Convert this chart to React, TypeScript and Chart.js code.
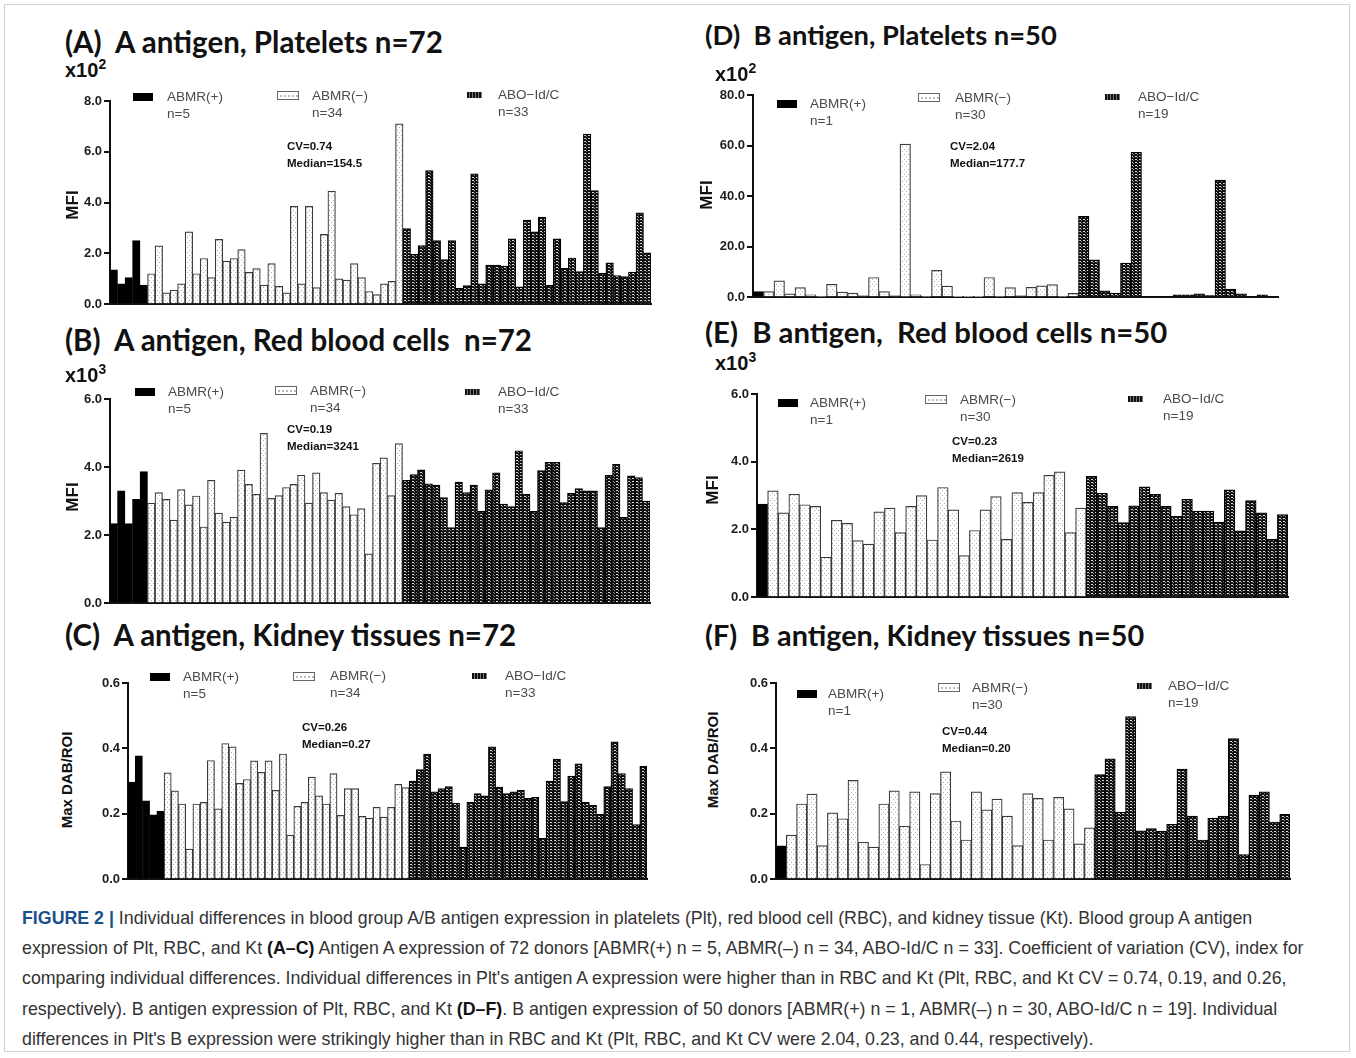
import React, { useEffect, useRef } from "react";
import { Chart, registerables } from "chart.js";
Chart.register(...registerables);

// ---------------- DATA ----------------
// (A) A antigen, Platelets (x10^2 MFI)
const aPltPos = [1.35, 0.8, 1.05, 2.5, 0.75];
const aPltNeg = [1.2, 2.3, 0.45, 0.55, 0.8, 2.85, 1.2, 1.8, 1.05, 2.55, 1.7, 1.8, 2.15, 1.25, 1.4, 0.75, 1.6, 0.7, 0.45, 3.85, 0.8, 3.85, 0.65, 2.75, 4.45, 1.0, 0.95, 1.6, 1.05, 0.5, 0.38, 0.8, 0.9, 7.1];
const aPltAbo = [2.98, 1.96, 2.31, 5.26, 2.5, 1.76, 2.5, 0.62, 0.73, 5.13, 0.8, 1.54, 1.54, 1.5, 2.57, 0.68, 3.31, 2.85, 3.43, 0.74, 2.57, 1.41, 1.82, 1.28, 6.7, 4.47, 1.22, 1.63, 1.13, 1.09, 1.26, 3.6, 2.02];
// (B) A antigen, Red blood cells (x10^3 MFI)
const aRbcPos = [2.34, 3.3, 2.34, 3.05, 3.87];
const aRbcNeg = [2.94, 3.25, 3.05, 2.44, 3.34, 2.89, 3.15, 2.24, 3.61, 2.65, 2.38, 2.53, 3.91, 3.49, 3.2, 4.99, 3.08, 3.16, 3.4, 3.49, 3.76, 2.94, 3.83, 3.25, 3.03, 3.23, 2.84, 2.6, 2.78, 1.45, 4.11, 4.27, 3.16, 4.69];
const aRbcAbo = [3.61, 3.78, 3.92, 3.51, 3.47, 3.1, 2.22, 3.56, 3.25, 3.47, 2.7, 3.33, 3.83, 2.91, 2.84, 4.48, 3.2, 2.7, 3.9, 4.14, 4.14, 2.96, 3.23, 3.37, 3.3, 3.3, 2.22, 3.76, 4.08, 2.52, 3.74, 3.69, 3.0];
// (C) A antigen, Kidney tissues (Max DAB/ROI)
const aKtPos = [0.297, 0.377, 0.24, 0.197, 0.208];
const aKtNeg = [0.325, 0.27, 0.23, 0.092, 0.23, 0.235, 0.363, 0.215, 0.415, 0.405, 0.293, 0.305, 0.362, 0.327, 0.362, 0.272, 0.383, 0.135, 0.223, 0.235, 0.312, 0.255, 0.23, 0.323, 0.195, 0.277, 0.277, 0.192, 0.187, 0.22, 0.19, 0.22, 0.29, 0.28];
const aKtAbo = [0.3, 0.335, 0.383, 0.267, 0.277, 0.283, 0.233, 0.098, 0.235, 0.262, 0.255, 0.405, 0.282, 0.262, 0.267, 0.272, 0.247, 0.25, 0.125, 0.3, 0.367, 0.237, 0.315, 0.353, 0.235, 0.227, 0.198, 0.283, 0.42, 0.323, 0.277, 0.167, 0.345];
// (D) B antigen, Platelets (x10^2 MFI)
const bPltPos = [2.2];
const bPltNeg = [2.2, 6.5, 1.3, 3.8, 0.9, 0.3, 5.1, 2.0, 1.6, 0.6, 7.8, 2.2, 0.6, 60.6, 0.9, 0.3, 10.6, 4.4, 0.2, 0.2, 0.2, 7.8, 0.3, 3.8, 0.6, 3.9, 4.5, 5.0, 0.3, 1.5];
const bPltAbo = [32.0, 14.8, 2.5, 1.6, 13.5, 57.3, 0.3, 0.3, 0.3, 0.9, 0.9, 1.3, 0.6, 46.3, 3.2, 1.3, 0.3, 0.9, 0.3];
// (E) B antigen, Red blood cells (x10^3 MFI)
const bRbcPos = [2.75];
const bRbcNeg = [3.14, 2.49, 3.04, 2.73, 2.68, 1.18, 2.27, 2.18, 1.67, 1.57, 2.52, 2.63, 1.91, 2.68, 3.0, 1.69, 3.24, 2.58, 1.23, 1.97, 2.58, 2.97, 1.71, 3.09, 2.8, 3.09, 3.6, 3.7, 1.91, 2.63];
const bRbcAbo = [3.57, 3.07, 2.68, 2.2, 2.7, 3.26, 3.04, 2.68, 2.39, 2.89, 2.54, 2.54, 2.22, 3.17, 1.96, 2.85, 2.49, 1.71, 2.44];
// (F) B antigen, Kidney tissues (Max DAB/ROI)
const bKtPos = [0.102];
const bKtNeg = [0.135, 0.23, 0.26, 0.103, 0.203, 0.185, 0.302, 0.113, 0.098, 0.23, 0.27, 0.162, 0.267, 0.045, 0.262, 0.328, 0.178, 0.12, 0.267, 0.212, 0.245, 0.193, 0.103, 0.262, 0.247, 0.12, 0.25, 0.215, 0.108, 0.157];
const bKtAbo = [0.32, 0.368, 0.205, 0.497, 0.148, 0.155, 0.147, 0.168, 0.337, 0.193, 0.12, 0.187, 0.193, 0.43, 0.075, 0.257, 0.267, 0.175, 0.198];

// tick values
const ticksPltA = [0, 2, 4, 6, 8];
const ticksRbc = [0, 2, 4, 6];
const ticksKt = [0, 0.2, 0.4, 0.6];
const ticksPltB = [0, 20, 40, 60, 80];

// group labels
const groupNames = ["ABMR(+)", "ABMR(\u2212)", "ABO\u2212Id/C"];

// ---------------- PANELS ----------------
type Leg = { sx: number; sy: number; tx: number; ty: number };
type Panel = {
  title: string; titleSize: number; mult?: string; exp?: string; yLabel: string;
  pos: number[]; neg: number[]; abo: number[]; ticks: number[];
  nText: string[]; cv: string; med: string;
  axisX: number; topY: number; zeroY: number; rightX: number;
  titleX: number; titleY: number; multX?: number; multY?: number;
  ylX: number; ylY: number; cvX: number; cvY: number; legs: Leg[];
};

const panels: Panel[] = [
  {
    title: "(A)  A antigen, Platelets n=72", titleSize: 29.5, mult: "x10", exp: "2", yLabel: "MFI",
    pos: aPltPos, neg: aPltNeg, abo: aPltAbo, ticks: ticksPltA,
    nText: ["n=5", "n=34", "n=33"], cv: "CV=0.74", med: "Median=154.5",
    axisX: 110, topY: 101, zeroY: 308, rightX: 651,
    titleX: 65, titleY: 42, multX: 65, multY: 68, ylX: 72, ylY: 205, cvX: 287, cvY: 147,
    legs: [{ sx: 133, sy: 97, tx: 167, ty: 97 }, { sx: 277, sy: 96, tx: 312, ty: 96 }, { sx: 467, sy: 95, tx: 498, ty: 95 }],
  },
  {
    title: "(B)  A antigen, Red blood cells  n=72", titleSize: 29.5, mult: "x10", exp: "3", yLabel: "MFI",
    pos: aRbcPos, neg: aRbcNeg, abo: aRbcAbo, ticks: ticksRbc,
    nText: ["n=5", "n=34", "n=33"], cv: "CV=0.19", med: "Median=3241",
    axisX: 110, topY: 399, zeroY: 607, rightX: 650,
    titleX: 65, titleY: 340, multX: 65, multY: 373, ylX: 72, ylY: 497, cvX: 287, cvY: 430,
    legs: [{ sx: 135, sy: 392, tx: 168, ty: 392 }, { sx: 275, sy: 391, tx: 310, ty: 391 }, { sx: 465, sy: 392, tx: 498, ty: 392 }],
  },
  {
    title: "(C)  A antigen, Kidney tissues n=72", titleSize: 29.5, yLabel: "Max DAB/ROI",
    pos: aKtPos, neg: aKtNeg, abo: aKtAbo, ticks: ticksKt,
    nText: ["n=5", "n=34", "n=33"], cv: "CV=0.26", med: "Median=0.27",
    axisX: 128, topY: 683, zeroY: 883, rightX: 647,
    titleX: 65, titleY: 635, ylX: 66, ylY: 780, cvX: 302, cvY: 728,
    legs: [{ sx: 150, sy: 677, tx: 183, ty: 677 }, { sx: 293, sy: 677, tx: 330, ty: 676 }, { sx: 472, sy: 676, tx: 505, ty: 676 }],
  },
  {
    title: "(D)  B antigen, Platelets n=50", titleSize: 27.3, mult: "x10", exp: "2", yLabel: "MFI",
    pos: bPltPos, neg: bPltNeg, abo: bPltAbo, ticks: ticksPltB,
    nText: ["n=1", "n=30", "n=19"], cv: "CV=2.04", med: "Median=177.7",
    axisX: 753, topY: 95, zeroY: 301, rightX: 1278,
    titleX: 705, titleY: 35, multX: 715, multY: 72, ylX: 706, ylY: 195, cvX: 950, cvY: 147,
    legs: [{ sx: 777, sy: 104, tx: 810, ty: 104 }, { sx: 918, sy: 98, tx: 955, ty: 98 }, { sx: 1105, sy: 97, tx: 1138, ty: 97 }],
  },
  {
    title: "(E)  B antigen,  Red blood cells n=50", titleSize: 29.3, mult: "x10", exp: "3", yLabel: "MFI",
    pos: bRbcPos, neg: bRbcNeg, abo: bRbcAbo, ticks: ticksRbc,
    nText: ["n=1", "n=30", "n=19"], cv: "CV=0.23", med: "Median=2619",
    axisX: 757, topY: 394, zeroY: 601, rightX: 1288,
    titleX: 705, titleY: 332, multX: 715, multY: 361, ylX: 712, ylY: 490, cvX: 952, cvY: 442,
    legs: [{ sx: 778, sy: 403, tx: 810, ty: 403 }, { sx: 925, sy: 400, tx: 960, ty: 400 }, { sx: 1128, sy: 399, tx: 1163, ty: 399 }],
  },
  {
    title: "(F)  B antigen, Kidney tissues n=50", titleSize: 28.8, yLabel: "Max DAB/ROI",
    pos: bKtPos, neg: bKtNeg, abo: bKtAbo, ticks: ticksKt,
    nText: ["n=1", "n=30", "n=19"], cv: "CV=0.44", med: "Median=0.20",
    axisX: 776, topY: 683, zeroY: 883, rightX: 1290,
    titleX: 705, titleY: 635, ylX: 712, ylY: 760, cvX: 942, cvY: 732,
    legs: [{ sx: 797, sy: 694, tx: 828, ty: 694 }, { sx: 938, sy: 688, tx: 972, ty: 688 }, { sx: 1137, sy: 686, tx: 1168, ty: 686 }],
  },
];

const Y_AXIS_W = 50;
const PAD_TOP = 12;
const PAD_BOTTOM = 6;
const PAD_RIGHT = 6;

function makePatterns(ctx: CanvasRenderingContext2D) {
  const dot = document.createElement("canvas");
  dot.width = 4; dot.height = 5;
  const d = dot.getContext("2d")!;
  d.fillStyle = "#ffffff"; d.fillRect(0, 0, 4, 5);
  d.fillStyle = "#b0b0b0"; d.fillRect(1, 1, 1, 1); d.fillRect(3, 3, 1, 1);
  const hatch = document.createElement("canvas");
  hatch.width = 4; hatch.height = 3;
  const h = hatch.getContext("2d")!;
  h.fillStyle = "#111111"; h.fillRect(0, 0, 4, 3);
  h.fillStyle = "#d8d8d8"; h.fillRect(0, 1, 2, 1);
  h.fillStyle = "#888888"; h.fillRect(2, 2, 1, 1);
  return {
    dot: ctx.createPattern(dot, "repeat")!,
    hatch: ctx.createPattern(hatch, "repeat")!,
  };
}

function PanelChart({ p }: { p: Panel }) {
  const ref = useRef<HTMLCanvasElement>(null);
  const left = p.axisX - Y_AXIS_W;
  const top = p.topY - PAD_TOP;
  const width = p.rightX - left + PAD_RIGHT;
  const height = p.zeroY - top + PAD_BOTTOM;
  useEffect(() => {
    const canvas = ref.current!;
    const ctx = canvas.getContext("2d")!;
    const pats = makePatterns(ctx);
    const data = [...p.pos, ...p.neg, ...p.abo];
    const n1 = p.pos.length, n2 = p.pos.length + p.neg.length;
    const labels = data.map((_, i) => String(i + 1));
    const bg = data.map((_, i) => (i < n1 ? "#000000" : i < n2 ? pats.dot : pats.hatch));
    const bc = data.map((_, i) => (i < n1 ? "#000000" : i < n2 ? "#3a3a3a" : "#000000"));
    const max = p.ticks[p.ticks.length - 1];
    const chart = new Chart(canvas, {
      type: "bar",
      data: {
        labels,
        datasets: [{
          data, backgroundColor: bg as any, borderColor: bc, borderWidth: 1.2,
          categoryPercentage: 1, barPercentage: 1, borderSkipped: "start",
        }],
      },
      options: {
        animation: false, responsive: false, maintainAspectRatio: false,
        layout: { padding: { top: PAD_TOP, bottom: PAD_BOTTOM, left: 0, right: PAD_RIGHT } },
        plugins: { legend: { display: false }, tooltip: { enabled: false }, title: { display: false } },
        scales: {
          x: {
            grid: { display: false, drawTicks: false },
            border: { display: true, color: "#111", width: 2 },
            ticks: { display: false },
            afterFit: (a: any) => { a.height = 0; },
          },
          y: {
            min: 0, max,
            afterBuildTicks: (a: any) => { a.ticks = p.ticks.map((v) => ({ value: v })); },
            ticks: {
              callback: (v: any) => Number(v).toFixed(1),
              font: { family: "'Liberation Sans', Arial, sans-serif", weight: "bold", size: 13 },
              color: "#1e1e1e", padding: 2,
            },
            grid: { drawOnChartArea: false, drawTicks: true, tickLength: 6, color: "#111", lineWidth: 2 },
            border: { display: true, color: "#111", width: 2 },
            afterFit: (a: any) => { a.width = Y_AXIS_W; },
          },
        },
      },
    });
    return () => chart.destroy();
  }, []);
  return (
    <canvas ref={ref} width={width} height={height}
      style={{ position: "absolute", left, top, width, height }} />
  );
}

const legendFont = "'Liberation Sans', Arial, sans-serif";

function Swatch({ kind, x, y }: { kind: number; x: number; y: number }) {
  if (kind === 0)
    return <div style={{ position: "absolute", left: x, top: y - 4, width: 20, height: 8, background: "#000" }} />;
  if (kind === 1)
    return <div style={{ position: "absolute", left: x, top: y - 5, width: 22, height: 9, border: "1.5px solid #666", boxSizing: "border-box", background: "repeating-linear-gradient(90deg, #fff 0 2px, #bbb 2px 4px)", backgroundSize: "100% 2px", backgroundRepeat: "no-repeat", backgroundPosition: "center" }} />;
  return <div style={{ position: "absolute", left: x, top: y - 3, width: 15, height: 6, background: "repeating-linear-gradient(90deg, #111 0 2px, #777 2px 3px)" }} />;
}

function PanelText({ p }: { p: Panel }) {
  const T = (x: number, y: number, s: React.CSSProperties, c: React.ReactNode, key: string) => (
    <div key={key} style={{ position: "absolute", left: x, top: y, transform: "translateY(-50%)", whiteSpace: "pre", lineHeight: 1, ...s }}>{c}</div>
  );
  const items: React.ReactNode[] = [];
  items.push(T(p.titleX, p.titleY, { fontFamily: "Lato, 'Open Sans', sans-serif", fontWeight: 700, fontSize: p.titleSize, color: "#111" }, p.title, "t"));
  if (p.mult) {
    items.push(T(p.multX!, p.multY!, { fontFamily: legendFont, fontWeight: 700, fontSize: 20, color: "#111" },
      <span>{p.mult}<sup style={{ fontSize: 14, verticalAlign: "8px" }}>{p.exp}</sup></span>, "m"));
  }
  items.push(
    <div key="yl" style={{ position: "absolute", left: p.ylX, top: p.ylY, transform: "translate(-50%,-50%) rotate(-90deg)", whiteSpace: "nowrap", fontFamily: legendFont, fontWeight: 700, fontSize: p.yLabel === "MFI" ? 17 : 15, color: "#111", lineHeight: 1 }}>{p.yLabel}</div>
  );
  p.legs.forEach((l, i) => {
    items.push(<Swatch key={"s" + i} kind={i} x={l.sx} y={l.sy} />);
    items.push(T(l.tx, l.ty, { fontFamily: legendFont, fontSize: 13.5, color: "#4a4a4a" }, groupNames[i], "l" + i));
    items.push(T(l.tx, l.ty + 17, { fontFamily: legendFont, fontSize: 13.5, color: "#4a4a4a" }, p.nText[i], "n" + i));
  });
  items.push(T(p.cvX, p.cvY, { fontFamily: legendFont, fontWeight: 700, fontSize: 11.5, color: "#111" }, p.cv, "cv"));
  items.push(T(p.cvX, p.cvY + 17, { fontFamily: legendFont, fontWeight: 700, fontSize: 11.5, color: "#111" }, p.med, "md"));
  return <>{items}</>;
}

const capStyle: React.CSSProperties = { position: "absolute", left: 22, whiteSpace: "nowrap", fontFamily: "'Liberation Sans', Arial, sans-serif", fontSize: 17.8, color: "#333", lineHeight: 1, transform: "translateY(-50%)" };

export default function App() {
  const lines: React.ReactNode[] = [
    <><b style={{ color: "#1b4f8a" }}>FIGURE 2 |</b> Individual differences in blood group A/B antigen expression in platelets (Plt), red blood cell (RBC), and kidney tissue (Kt). Blood group A antigen</>,
    <>expression of Plt, RBC, and Kt <b style={{ color: "#111" }}>(A–C)</b> Antigen A expression of 72 donors [ABMR(+) n = 5, ABMR(–) n = 34, ABO-Id/C n = 33]. Coefficient of variation (CV), index for</>,
    <>comparing individual differences. Individual differences in Plt's antigen A expression were higher than in RBC and Kt (Plt, RBC, and Kt CV = 0.74, 0.19, and 0.26,</>,
    <>respectively). B antigen expression of Plt, RBC, and Kt <b style={{ color: "#111" }}>(D–F)</b>. B antigen expression of 50 donors [ABMR(+) n = 1, ABMR(–) n = 30, ABO-Id/C n = 19]. Individual</>,
    <>differences in Plt's B expression were strikingly higher than in RBC and Kt (Plt, RBC, and Kt CV were 2.04, 0.23, and 0.44, respectively).</>,
  ];
  const lineY = [919, 949, 979, 1010, 1040];
  return (
    <div style={{ position: "absolute", left: 0, top: 0, width: 1356, height: 1058, background: "#fff", overflow: "hidden" }}>
      <div style={{ position: "absolute", left: 4, top: 4, width: 1346, height: 1048, border: "1px solid #d0d0d0", boxSizing: "border-box" }} />
      {panels.map((p, i) => <PanelChart key={"c" + i} p={p} />)}
      {panels.map((p, i) => <PanelText key={"x" + i} p={p} />)}
      {lines.map((l, i) => <div key={"cap" + i} style={{ ...capStyle, top: lineY[i] }}>{l}</div>)}
    </div>
  );
}
